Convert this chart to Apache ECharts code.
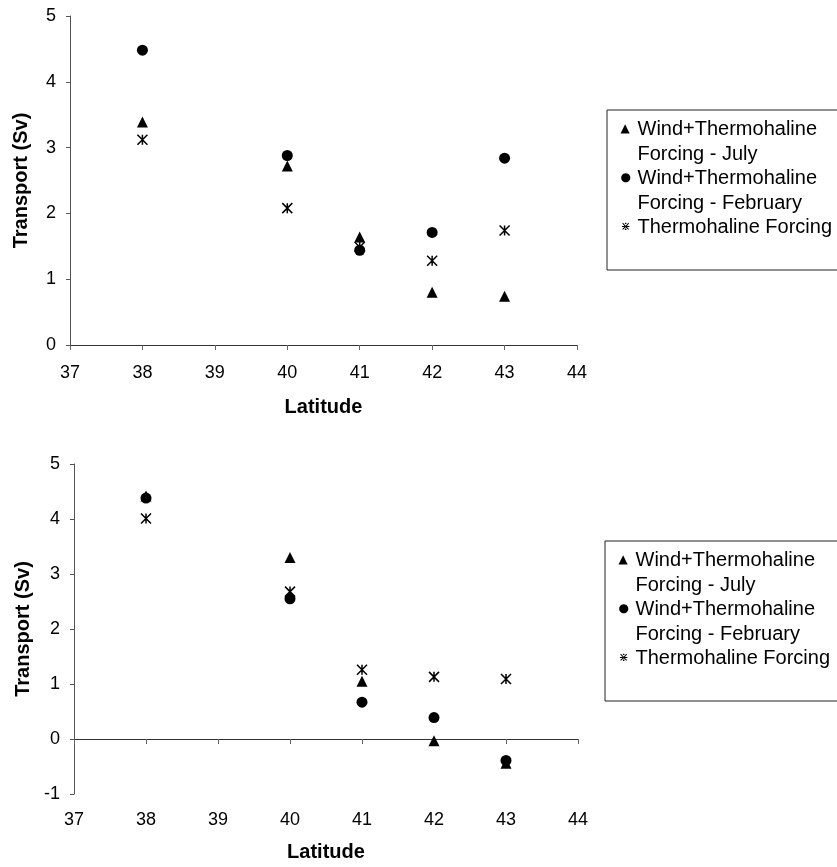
<!DOCTYPE html>
<html>
<head>
<meta charset="utf-8">
<script src="https://cdn.jsdelivr.net/npm/echarts@6/dist/echarts.min.js"></script>
<style>
  html, body { margin: 0; padding: 0; background: #fff; }
  #chart { width: 837px; height: 867px; }
</style>
</head>
<body>
<div id="chart"></div>
<script>
// latitude of each station
const latitude = [38, 40, 41, 42, 43]

// upper panel, transport (Sv)
const topJuly = [3.39, 2.72, 1.64, 0.80, 0.74]
const topFebruary = [4.48, 2.88, 1.44, 1.71, 2.84]
const topThermo = [3.12, 2.08, 1.49, 1.28, 1.74]

// lower panel, transport (Sv)
const bottomJuly = [4.42, 3.30, 1.05, -0.03, -0.44]
const bottomFebruary = [4.38, 2.55, 0.67, 0.39, -0.39]
const bottomThermo = [4.01, 2.68, 1.26, 1.13, 1.09]

const seriesNames = [
  'Wind+Thermohaline Forcing - July',
  'Wind+Thermohaline Forcing - February',
  'Thermohaline Forcing'
]

const fontFamily = "'Liberation Sans', Arial, sans-serif"
const starPath = 'path://M0,0L10,10M10,0L0,10M5,0L5,10'

function pairs(values) {
  return latitude.map((lat, i) => [lat, values[i]])
}

function xAxisBase(gridIndex) {
  return {
    type: 'value',
    gridIndex: gridIndex,
    min: 37,
    max: 44,
    interval: 1,
    splitLine: { show: false },
    axisLine: { lineStyle: { color: '#333', width: 1 } },
    axisTick: { length: 5, lineStyle: { color: '#666' } },
    axisLabel: { color: '#000', fontSize: 18, fontFamily: fontFamily, margin: 19 }
  }
}

function yAxisBase(gridIndex, min) {
  return {
    type: 'value',
    gridIndex: gridIndex,
    min: min,
    max: 5,
    interval: 1,
    name: 'Transport (Sv)',
    nameLocation: 'middle',
    nameGap: 39,
    nameTextStyle: { color: '#000', fontSize: 20, fontWeight: 'bold', fontFamily: fontFamily },
    splitLine: { show: false },
    axisLine: { show: true, onZero: false, lineStyle: { color: '#555', width: 1 } },
    axisTick: { show: true, length: 4, lineStyle: { color: '#555' } },
    axisLabel: { color: '#000', fontSize: 18, fontFamily: fontFamily, margin: 14 }
  }
}

function makeSeries(xAxisIndex, yAxisIndex, july, feb, thermo) {
  return [
    {
      name: seriesNames[0],
      type: 'scatter',
      xAxisIndex: xAxisIndex,
      yAxisIndex: yAxisIndex,
      symbol: 'triangle',
      symbolSize: 11,
      itemStyle: { color: '#000', opacity: 1 },
      data: pairs(july)
    },
    {
      name: seriesNames[1],
      type: 'scatter',
      xAxisIndex: xAxisIndex,
      yAxisIndex: yAxisIndex,
      symbol: 'circle',
      symbolSize: 11,
      itemStyle: { color: '#000', opacity: 1 },
      data: pairs(feb)
    },
    {
      name: seriesNames[2],
      type: 'scatter',
      xAxisIndex: xAxisIndex,
      yAxisIndex: yAxisIndex,
      symbol: starPath,
      symbolSize: 10,
      itemStyle: { color: 'none', borderColor: '#000', borderWidth: 1.5, opacity: 1 },
      data: pairs(thermo)
    }
  ]
}

const legendText = {}
legendText[seriesNames[0]] = '{m|▲}{t|Wind+Thermohaline}\n{m| }{t|Forcing - July}'
legendText[seriesNames[1]] = '{m|●}{t|Wind+Thermohaline}\n{m| }{t|Forcing - February}'
legendText[seriesNames[2]] = '{m|⋇}{t|Thermohaline Forcing}'

function makeLegend(left, top) {
  return {
    left: left,
    top: top,
    orient: 'vertical',
    data: seriesNames,
    selectedMode: false,
    itemWidth: 0,
    itemHeight: 0,
    itemGap: 4,
    padding: [9, 40, 33, 6],
    borderColor: '#222',
    borderWidth: 1,
    formatter: name => legendText[name],
    textStyle: {
      color: '#000',
      align: 'left',
      rich: {
        m: { width: 17, fontSize: 12, fontFamily: 'DejaVu Sans', color: '#000', lineHeight: 25 },
        t: { fontSize: 20, fontFamily: fontFamily, color: '#000', lineHeight: 25 }
      }
    }
  }
}

const bottomLabelAxis = Object.assign(xAxisBase(1), {
  name: 'Latitude',
  nameLocation: 'middle',
  nameGap: 48,
  nameTextStyle: { color: '#000', fontSize: 20, fontWeight: 'bold', fontFamily: fontFamily },
  position: 'bottom'
})
bottomLabelAxis.axisLine = { show: false, onZero: false }
bottomLabelAxis.axisTick = { show: false }
bottomLabelAxis.axisLabel.margin = 17

const bottomZeroAxis = xAxisBase(1)
bottomZeroAxis.position = 'bottom'
bottomZeroAxis.axisLine.onZero = true
bottomZeroAxis.axisLabel = { show: false }

const topXAxis = Object.assign(xAxisBase(0), {
  name: 'Latitude',
  nameLocation: 'middle',
  nameGap: 52,
  nameTextStyle: { color: '#000', fontSize: 20, fontWeight: 'bold', fontFamily: fontFamily }
})

const chart = echarts.init(document.getElementById('chart'), null, { renderer: 'canvas' })
chart.setOption({
  animation: false,
  backgroundColor: '#fff',
  grid: [
    { left: 70, top: 16, width: 507, height: 329, containLabel: false },
    { left: 74, top: 464, width: 504, height: 330, containLabel: false }
  ],
  xAxis: [topXAxis, bottomZeroAxis, bottomLabelAxis],
  yAxis: [yAxisBase(0, 0), Object.assign(yAxisBase(1, -1), { nameGap: 41 })],
  legend: [makeLegend(607, 110), makeLegend(605, 541)],
  series: [].concat(
    makeSeries(0, 0, topJuly, topFebruary, topThermo),
    makeSeries(1, 1, bottomJuly, bottomFebruary, bottomThermo)
  )
})
</script>
</body>
</html>
